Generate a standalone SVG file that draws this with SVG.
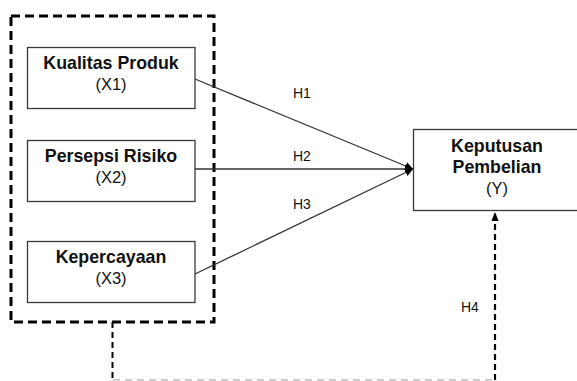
<svg xmlns="http://www.w3.org/2000/svg" width="577" height="381" viewBox="0 0 577 381">
  <defs>
    <style>
      .box { fill: #ffffff; stroke: #3a3a3a; stroke-width: 1.3; }
      .title { font-family: "Liberation Sans", Arial, sans-serif; font-weight: bold; font-size: 17.8px; fill: #111; text-anchor: middle; }
      .sub { font-family: "Liberation Sans", Arial, sans-serif; font-size: 16.5px; fill: #111; text-anchor: middle; }
      .lbl { font-family: "Liberation Sans", Arial, sans-serif; font-size: 14px; fill: #111; }
      .edge { stroke: #333; stroke-width: 1.3; fill: none; }
    </style>
    <marker id="arr" viewBox="0 0 10 10" refX="10" refY="5" markerWidth="8" markerHeight="8" markerUnits="userSpaceOnUse" orient="auto">
      <path d="M0,0 L10,5 L0,10 z" fill="#000"/>
    </marker>
    <marker id="arrUp" viewBox="0 0 10 10" refX="10" refY="5" markerWidth="9" markerHeight="9" markerUnits="userSpaceOnUse" orient="auto">
      <path d="M0,1 L10,5 L0,9 z" fill="#000"/>
    </marker>
  </defs>

  <!-- grouping frame around the independent variables -->
  <rect x="11" y="16" width="203" height="306" fill="none" stroke="#000" stroke-width="3" stroke-dasharray="9,5"/>

  <g id="connectors">
    <line class="edge" x1="195" y1="79" x2="413" y2="169" marker-end="url(#arr)"/>
    <line class="edge" x1="195" y1="169" x2="413" y2="169" marker-end="url(#arr)"/>
    <line class="edge" x1="195" y1="274" x2="413" y2="169" marker-end="url(#arr)"/>
    <text class="lbl" x="293" y="98">H1</text>
    <text class="lbl" x="293" y="161">H2</text>
    <text class="lbl" x="293" y="209">H3</text>
    <!-- moderating path from the frame to Y -->
    <line x1="112.5" y1="322" x2="112.5" y2="380" stroke="#000" stroke-width="2" stroke-dasharray="6,4"/>
    <line x1="113" y1="380" x2="494" y2="380" stroke="#999" stroke-width="1" stroke-dasharray="7,5"/>
    <line x1="495" y1="380" x2="495" y2="212" stroke="#000" stroke-width="2.2" stroke-dasharray="6,4" marker-end="url(#arrUp)"/>
    <text class="lbl" x="461" y="312">H4</text>
  </g>

  <g id="x1">
    <rect class="box" x="27.5" y="47.5" width="167.5" height="61"/>
    <text class="title" x="111" y="69">Kualitas Produk</text>
    <text class="sub" x="111" y="90">(X1)</text>
  </g>

  <g id="x2">
    <rect class="box" x="27.5" y="140.5" width="167.5" height="61"/>
    <text class="title" x="111" y="162">Persepsi Risiko</text>
    <text class="sub" x="111" y="183">(X2)</text>
  </g>

  <g id="x3">
    <rect class="box" x="27.5" y="241.5" width="167.5" height="61"/>
    <text class="title" x="111" y="263">Kepercayaan</text>
    <text class="sub" x="111" y="284">(X3)</text>
  </g>

  <g id="y">
    <rect class="box" x="413.5" y="129.5" width="170" height="81"/>
    <text class="title" x="497" y="152">Keputusan</text>
    <text class="title" x="497" y="173">Pembelian</text>
    <text class="sub" x="497" y="194">(Y)</text>
  </g>
</svg>
